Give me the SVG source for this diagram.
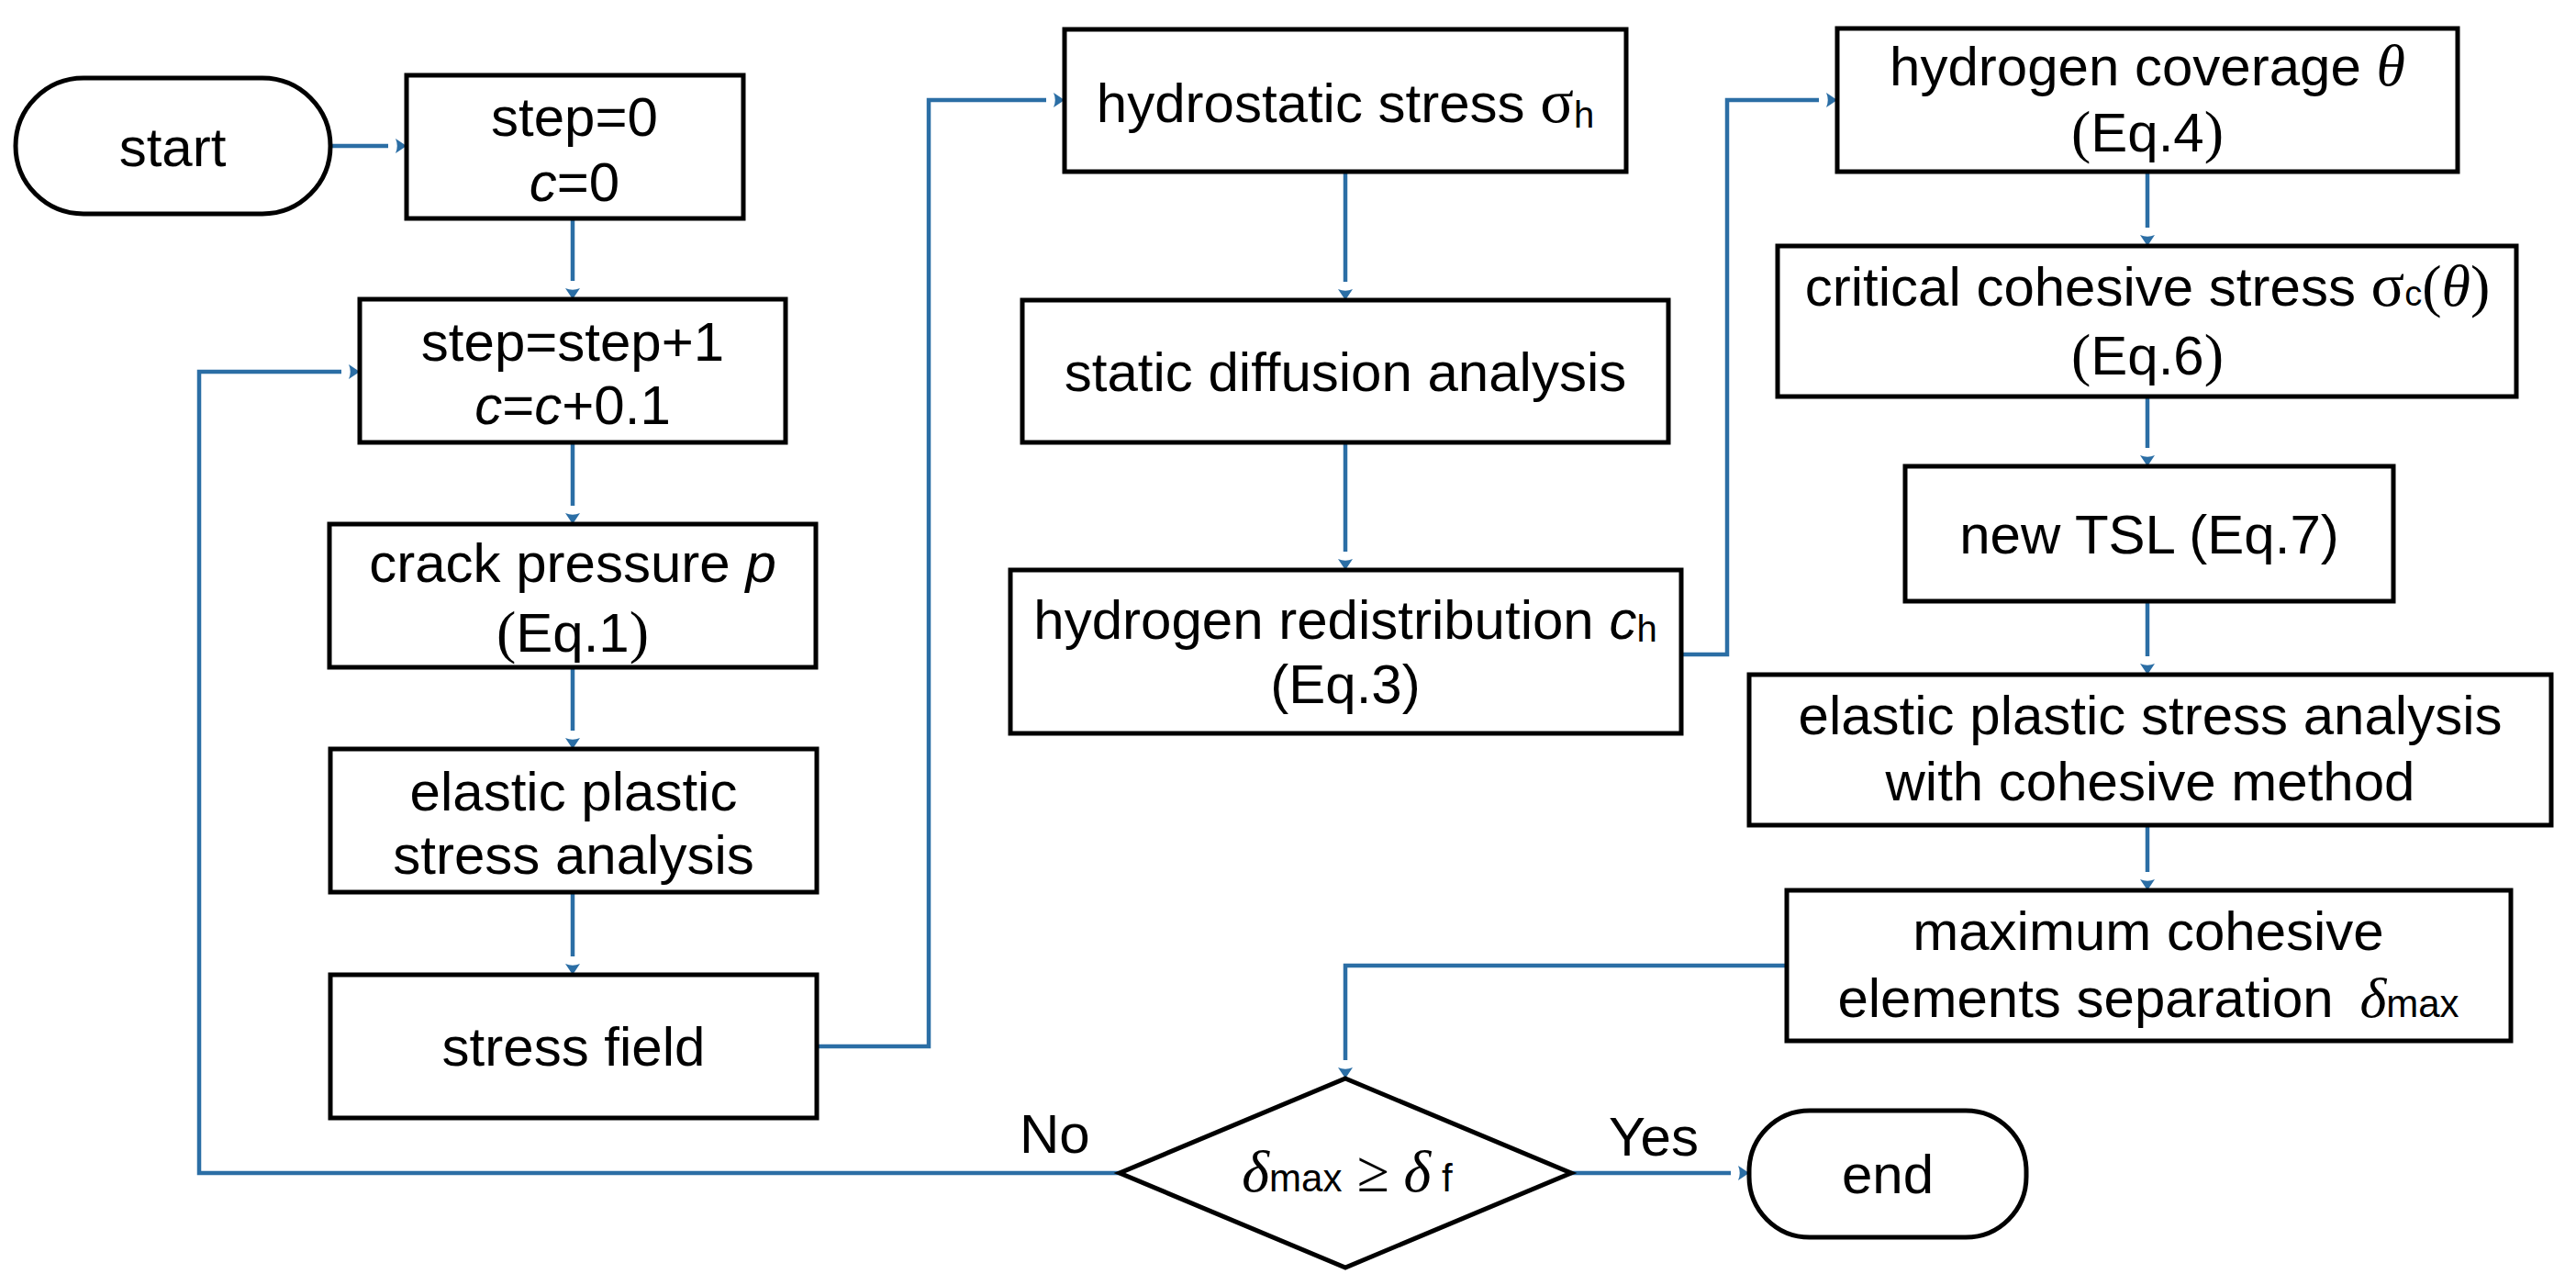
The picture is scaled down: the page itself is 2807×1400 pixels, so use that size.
<svg xmlns="http://www.w3.org/2000/svg" width="2807" height="1400" viewBox="0 0 2807 1400">
<defs>
<style>
.box{fill:#fff;stroke:#000;stroke-width:5}
.t{font-family:"Liberation Sans",Arial,sans-serif;font-size:60px;fill:#000;text-anchor:middle}
.lbl{font-family:"Liberation Sans",Arial,sans-serif;font-size:60px;fill:#000}
.it{font-style:italic}
.ser{font-family:"Liberation Serif","Times New Roman",serif}
.sub{font-size:40px}
.con{fill:none;stroke:#2B6EA5;stroke-width:4.5;marker-end:url(#ah)}
</style>
<marker id="ah" markerUnits="userSpaceOnUse" viewBox="0 -10 22 20" markerWidth="22" markerHeight="20" refX="0" refY="0" orient="auto">
<path d="M8,-8 L20,0 L8,8 Q11.5,0 8,-8 Z" fill="#2B6EA5"/>
</marker>
</defs>
<rect width="2807" height="1400" fill="#fff"/>

<g id="connectors">
<path class="con" d="M360,159 H423"/>
<path class="con" d="M624,238 V306"/>
<path class="con" d="M624,482 V551"/>
<path class="con" d="M624,727 V796"/>
<path class="con" d="M624,972 V1042"/>
<path class="con" d="M890,1140 H1012 V109 H1140"/>
<path class="con" d="M1466,187 V307"/>
<path class="con" d="M1466,482 V601"/>
<path class="con" d="M1832,713 H1882 V109 H1982"/>
<path class="con" d="M2340,187 V248"/>
<path class="con" d="M2340,432 V488"/>
<path class="con" d="M2340,655 V715"/>
<path class="con" d="M2340,899 V950"/>
<path class="con" d="M1947,1052 H1466 V1155"/>
<path class="con" d="M1712,1278 H1886"/>
<path class="con" d="M1220,1278 H217 V405 H372"/>
<text class="lbl" x="1111" y="1256">No</text>
<text class="lbl" x="1753" y="1259">Yes</text>
</g>

<g id="start">
<rect class="box" x="17" y="85" width="343" height="148" rx="74" ry="74"/>
<text class="t" x="188" y="181">start</text>
</g>

<g id="init">
<rect class="box" x="443" y="82" width="367" height="156"/>
<text class="t" x="626" y="148">step=0</text>
<text class="t" x="626" y="219"><tspan class="it">c</tspan>=0</text>
</g>

<g id="increment">
<rect class="box" x="392" y="326" width="464" height="156"/>
<text class="t" x="624" y="393">step=step+1</text>
<text class="t" x="624" y="462"><tspan class="it">c</tspan>=<tspan class="it">c</tspan>+0.1</text>
</g>

<g id="crack-pressure">
<rect class="box" x="359" y="571" width="530" height="156"/>
<text class="t" x="624" y="634">crack pressure <tspan class="it">p</tspan></text>
<text class="t" x="624" y="710"><tspan class="ser" font-size="64">(</tspan>Eq.1<tspan class="ser" font-size="64">)</tspan></text>
</g>

<g id="elastic-plastic">
<rect class="box" x="360" y="816" width="530" height="156"/>
<text class="t" x="625" y="883">elastic plastic</text>
<text class="t" x="625" y="952">stress analysis</text>
</g>

<g id="stress-field">
<rect class="box" x="360" y="1062" width="530" height="156"/>
<text class="t" x="625" y="1161">stress field</text>
</g>

<g id="hydrostatic">
<rect class="box" x="1160" y="32" width="612" height="155"/>
<text class="t" x="1466" y="133">hydrostatic stress <tspan class="ser" font-size="68">σ</tspan><tspan class="sub" dy="6">h</tspan></text>
</g>

<g id="static-diffusion">
<rect class="box" x="1114" y="327" width="704" height="155"/>
<text class="t" x="1466" y="426">static diffusion analysis</text>
</g>

<g id="redistribution">
<rect class="box" x="1101" y="621" width="731" height="178"/>
<text class="t" x="1466" y="696">hydrogen redistribution <tspan class="it">c</tspan><tspan class="sub" dy="3">h</tspan></text>
<text class="t" x="1466" y="766">(Eq.3)</text>
</g>

<g id="coverage">
<rect class="box" x="2002" y="31" width="676" height="156"/>
<text class="t" x="2340" y="93">hydrogen coverage <tspan class="ser it" font-size="64">θ</tspan></text>
<text class="t" x="2340" y="165"><tspan class="ser" font-size="64">(</tspan>Eq.4<tspan class="ser" font-size="64">)</tspan></text>
</g>

<g id="critical-stress">
<rect class="box" x="1937" y="268" width="805" height="164"/>
<text class="t" x="2340" y="333">critical cohesive stress <tspan class="ser" font-size="68">σ</tspan><tspan font-size="38">c</tspan><tspan class="ser" font-size="64">(</tspan><tspan class="ser it" font-size="64">θ</tspan><tspan class="ser" font-size="64">)</tspan></text>
<text class="t" x="2340" y="408"><tspan class="ser" font-size="64">(</tspan>Eq.6<tspan class="ser" font-size="64">)</tspan></text>
</g>

<g id="new-tsl">
<rect class="box" x="2076" y="508" width="532" height="147"/>
<text class="t" x="2342" y="603">new TSL (Eq.7)</text>
</g>

<g id="cohesive-analysis">
<rect class="box" x="1906" y="735" width="874" height="164"/>
<text class="t" x="2343" y="800">elastic plastic stress analysis</text>
<text class="t" x="2343" y="872">with cohesive method</text>
</g>

<g id="max-separation">
<rect class="box" x="1947" y="970" width="789" height="164"/>
<text class="t" x="2341" y="1035">maximum cohesive</text>
<text class="t" x="2341" y="1108">elements separation <tspan class="ser it" font-size="62" dx="12">δ</tspan><tspan font-size="42">max</tspan></text>
</g>

<g id="decision">
<polygon class="box" points="1466,1175 1712,1278 1466,1381 1220,1278"/>
<text class="t" x="1468" y="1298"><tspan class="ser it" font-size="64">δ</tspan><tspan font-size="42">max</tspan><tspan class="ser" font-size="64"> ≥ </tspan><tspan class="ser it" font-size="64">δ</tspan><tspan font-size="42"> f</tspan></text>
</g>

<g id="end">
<rect class="box" x="1906" y="1210" width="302" height="138" rx="66" ry="66"/>
<text class="t" x="2057" y="1300">end</text>
</g>
</svg>
